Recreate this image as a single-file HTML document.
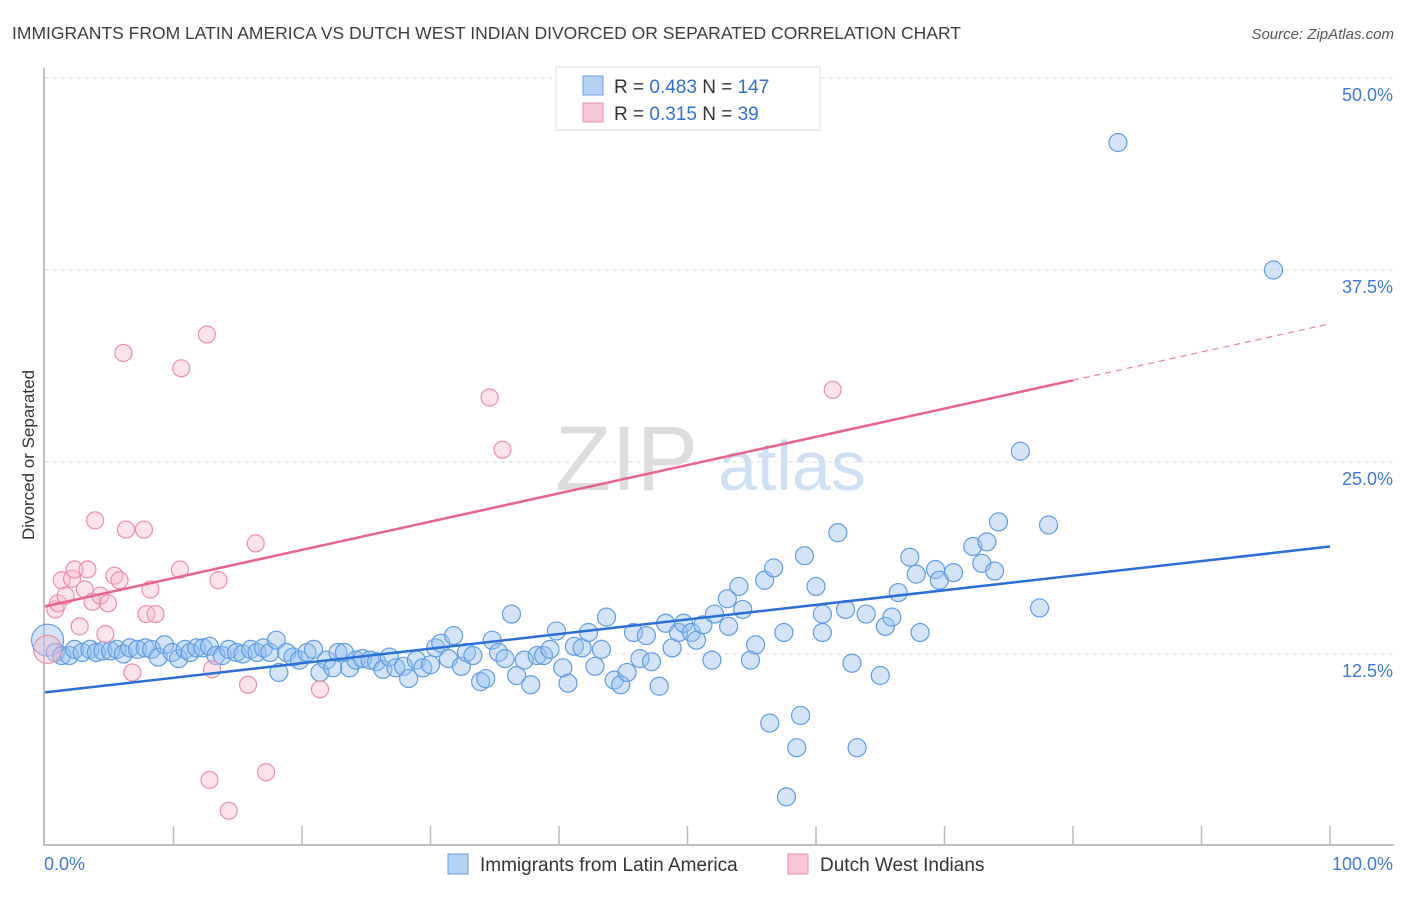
<!DOCTYPE html>
<html><head><meta charset="utf-8"><style>
body{margin:0;background:#fff;font-family:"Liberation Sans",sans-serif}
svg text{font-family:"Liberation Sans",sans-serif}
</style></head><body>
<svg id="c" width="1406" height="892">
<text x="12" y="39" font-size="17.5" fill="#3d3d3d">IMMIGRANTS FROM LATIN AMERICA VS DUTCH WEST INDIAN DIVORCED OR SEPARATED CORRELATION CHART</text>
<text x="1394" y="39" font-size="15" fill="#555" font-style="italic" text-anchor="end">Source: ZipAtlas.com</text>
<text x="555" y="490" font-size="92" fill="#ddd" font-family="Liberation Serif">ZIP</text>
<text x="718" y="490" font-size="70" fill="#cfe0f5">atlas</text>
<text transform="translate(34,455) rotate(-90)" font-size="17" fill="#333" text-anchor="middle">Divorced or Separated</text>
<g id="grid"></g><g id="marks"></g>
<g>
<rect x="556" y="67" width="264" height="63" fill="#fff" stroke="#ddd"/>
<rect x="583" y="76" width="20" height="19" fill="#b4d0f5" stroke="#6aa0e0"/>
<rect x="583" y="103" width="20" height="19" fill="#f8c6d4" stroke="#ea93ad"/>
<text x="614" y="93" font-size="19" fill="#333">R = <tspan fill="#2f6fd6">0.483</tspan>   N = <tspan fill="#2f6fd6">147</tspan></text>
<text x="614" y="120" font-size="19" fill="#333">R =  <tspan fill="#2f6fd6">0.315</tspan>   N =  <tspan fill="#2f6fd6"> 39</tspan></text>
</g>
<g>
<rect x="448" y="854" width="20" height="20" fill="#b4d0f5" stroke="#6aa0e0"/>
<text x="480" y="871" font-size="19" fill="#333">Immigrants from Latin America</text>
<rect x="788" y="854" width="20" height="20" fill="#f8c6d4" stroke="#ea93ad"/>
<text x="820" y="871" font-size="19" fill="#333">Dutch West Indians</text>
</g>
</svg>
<script>
const yTicks=[12.5,25,37.5,50];
const yTickLabels=["12.5%","25.0%","37.5%","50.0%"];
const xTickLabels=["0.0%","100.0%"];
const blueX=[0.2,0.8,1.3,1.9,2.3,2.9,3.5,4.0,4.5,5.1,5.6,6.1,6.6,7.2,7.8,8.3,8.8,9.3,9.9,10.4,10.9,11.3,11.8,12.3,12.8,13.3,13.8,14.3,14.9,15.4,16.0,16.5,17.0,17.5,18.0,18.2,18.8,19.3,19.8,20.4,20.9,21.4,21.9,22.4,22.8,23.3,23.7,24.2,24.7,25.3,25.8,26.3,26.8,27.3,27.9,28.3,28.9,29.4,30.0,30.4,30.8,31.4,31.8,32.4,32.8,33.3,33.9,34.3,34.8,35.3,35.8,36.3,36.7,37.3,37.8,38.3,38.8,39.3,39.8,40.3,40.7,41.2,41.8,42.3,42.8,43.3,43.7,44.3,44.8,45.3,45.8,46.3,46.8,47.2,47.8,48.3,48.8,49.3,49.7,50.3,50.7,51.2,51.9,52.1,53.1,53.2,54.0,54.3,54.9,55.3,56.0,56.4,56.7,57.5,58.5,57.7,58.8,59.1,60.0,60.5,60.5,61.7,62.3,62.8,63.2,63.9,65.0,65.4,65.9,66.4,67.3,67.8,68.1,69.3,69.6,70.7,72.2,72.9,73.3,73.9,74.2,75.9,77.4,78.1,83.5,95.6];
const blueY=[13.4,12.6,12.4,12.4,12.8,12.6,12.8,12.6,12.7,12.7,12.8,12.5,12.9,12.8,12.9,12.8,12.3,13.1,12.6,12.2,12.8,12.6,12.9,12.9,13.0,12.4,12.4,12.8,12.6,12.5,12.8,12.6,12.9,12.6,13.4,11.3,12.6,12.3,12.1,12.6,12.8,11.3,12.1,11.6,12.6,12.6,11.6,12.1,12.2,12.1,12.0,11.5,12.3,11.6,11.7,10.9,12.1,11.6,11.8,12.9,13.2,12.2,13.7,11.7,12.6,12.4,10.7,10.9,13.4,12.6,12.2,15.1,11.1,12.1,10.5,12.4,12.4,12.8,14.0,11.6,10.6,13.0,12.9,13.9,11.7,12.8,14.9,10.8,10.5,11.3,13.9,12.2,13.7,12.0,10.4,14.5,12.9,13.9,14.5,13.9,13.4,14.4,12.1,15.1,16.1,14.3,16.9,15.4,12.1,13.1,17.3,8.0,18.1,13.9,6.4,3.2,8.5,18.9,16.9,15.1,13.9,20.4,15.4,11.9,6.4,15.1,11.1,14.3,14.9,16.5,18.8,17.7,13.9,18.0,17.3,17.8,19.5,18.4,19.8,17.9,21.1,25.7,15.5,20.9,45.8,37.5];
const pinkX=[0.2,0.8,1.0,1.3,1.6,2.1,2.3,2.7,3.1,3.3,3.7,3.9,4.3,4.7,4.9,5.4,5.8,6.1,6.3,6.8,7.7,7.9,8.2,8.6,10.5,10.6,12.6,13.0,12.8,13.5,14.3,15.8,16.4,17.2,21.4,34.6,35.6,61.3];
const pinkY=[12.8,15.4,15.8,17.3,16.3,17.4,18.0,14.3,16.7,18.0,15.9,21.2,16.3,13.8,15.8,17.6,17.3,32.1,20.6,11.3,20.6,15.1,16.7,15.1,18.0,31.1,33.3,11.5,4.3,17.3,2.3,10.5,19.7,4.8,10.2,29.2,25.8,29.7];
const blueTrend=[10.0,19.5];
const pinkTrend=[15.6,34.0];
const pinkSolidEnd=80;

const X0=45,X1=1330,Y0=846,Y50=78;
const sx=v=>X0+(X1-X0)*v/100;
const sy=v=>Y0-(Y0-Y50)*v/50;
const NS="http://www.w3.org/2000/svg";
function mk(tag,attrs,parent){const e=document.createElementNS(NS,tag);for(const k in attrs)e.setAttribute(k,attrs[k]);parent.appendChild(e);return e;}
const grid=document.getElementById('grid'),marks=document.getElementById('marks');
yTicks.forEach((t,i)=>{
 const l=mk('line',{x1:X0,x2:1394,y1:sy(t),y2:sy(t),stroke:'#ddd','stroke-dasharray':'4,4'},grid);
 
 
 const tx=mk('text',{x:1393,y:sy(t)+23,'font-size':18,fill:'#3f78d6','text-anchor':'end'},grid);
 tx.textContent=yTickLabels[i];
 
 
});
const ax=mk('path',{d:`M${X0-1},68 V${Y0-1} H1394`,stroke:'#aaa',fill:'none','stroke-width':1.5},grid);


for(let i=1;i<=10;i++){
 const t=mk('line',{x1:sx(i*10),x2:sx(i*10),y1:826,y2:845,stroke:'#bbb','stroke-width':1.5},grid);
 
 
}
xTickLabels.forEach((s,i)=>{
 const tx=mk('text',{x:i?1393:44,y:870,'font-size':18,fill:'#3f78d6','text-anchor':i?'end':'start'},grid);
 tx.textContent=s;
 
 
});
blueX.forEach((x,i)=>{
 const c=mk('circle',{cx:sx(x),cy:sy(blueY[i]),r:i==0?16:9,fill:'rgba(150,190,240,0.42)',stroke:'#5f9de3','stroke-width':1.2},marks);
 
 
});
pinkX.forEach((x,i)=>{
 const c=mk('circle',{cx:sx(x),cy:sy(pinkY[i]),r:i==0?14:8.5,fill:'rgba(248,185,205,0.4)',stroke:'#ea8fab','stroke-width':1.2},marks);
 
 
});
const bl=mk('line',{x1:sx(0),y1:sy(blueTrend[0]),x2:sx(100),y2:sy(blueTrend[1]),stroke:'#2a6fd6','stroke-width':2.5},marks);


const pm=pinkTrend[0]+(pinkTrend[1]-pinkTrend[0])*pinkSolidEnd/100;
const pl=mk('line',{x1:sx(0),y1:sy(pinkTrend[0]),x2:sx(pinkSolidEnd),y2:sy(pm),stroke:'#e8628e','stroke-width':2.5},marks);


const pd=mk('line',{x1:sx(pinkSolidEnd),y1:sy(pm),x2:sx(100),y2:sy(pinkTrend[1]),stroke:'#e8829f','stroke-width':1.2,'stroke-dasharray':'6,5'},marks);


</script>
</body></html>
